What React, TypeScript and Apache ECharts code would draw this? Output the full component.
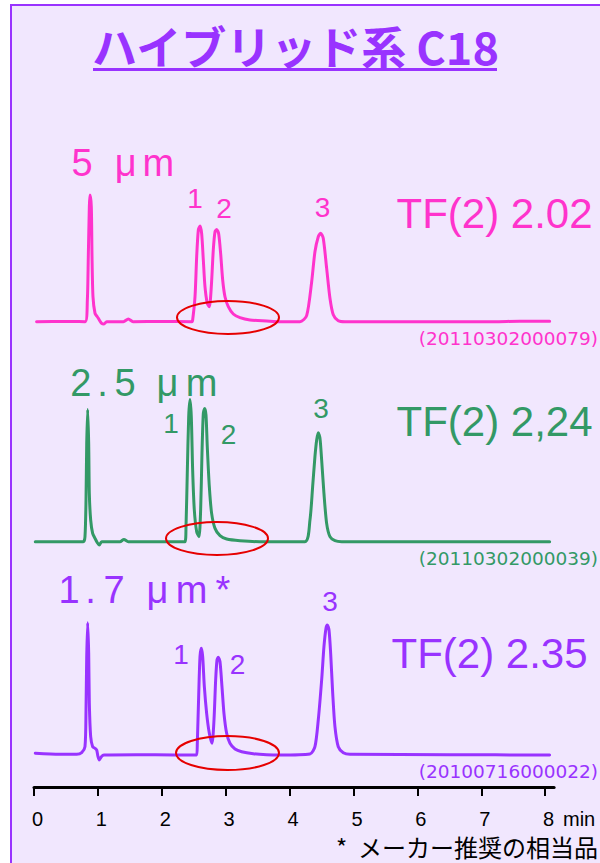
import React, { useEffect, useRef } from 'react';
import * as echarts from 'echarts';

// ---- Data (time in min, detector signal in arbitrary units above baseline) ----
const trace5um: [number, number][] = [
  [0.04, 0], [0.5, 0.3], [0.8, 0], [0.835, 21.7], [0.85, 65], [0.866, 115], [0.876, 126.7],
  [0.897, 115], [0.908, 65], [0.923, 25], [0.955, 8.3], [0.991, 5], [1.022, 1.7], [1.059, -1.7],
  [1.095, -2.3], [1.137, 0], [1.4, 0], [1.476, 2.7], [1.55, 0], [2.0, 0.3], [2.47, 0],
  [2.483, 1.7], [2.52, 25], [2.546, 65], [2.572, 91.7], [2.598, 95.7], [2.624, 88], [2.65, 61.7],
  [2.676, 35], [2.712, 18.3], [2.744, 15], [2.775, 35], [2.806, 71.7], [2.833, 90], [2.859, 92.3],
  [2.89, 88], [2.921, 68.3], [2.953, 41.7], [2.989, 25], [3.041, 15], [3.119, 7.7], [3.224, 4],
  [3.38, 1.7], [3.641, 0.7], [3.85, 0], [4.163, 0], [4.267, 6], [4.346, 40], [4.397, 70],
  [4.449, 85], [4.486, 88.5], [4.527, 83.5], [4.58, 53.5], [4.632, 23.5], [4.684, 7], [4.762, 1],
  [4.867, 0], [6.0, 0], [7.2, 0], [7.6, 0.5], [8.07, 0.5],
];
const trace25um: [number, number][] = [
  [0.02, 0], [0.5, 0], [0.772, 0], [0.798, 5], [0.814, 41.7], [0.825, 98], [0.84, 132.3],
  [0.856, 98], [0.866, 48], [0.887, 21.7], [0.918, 8.3], [0.955, 3.3], [0.991, -1], [1.022, -3.3],
  [1.059, 0], [1.346, 0], [1.408, 2.3], [1.476, 0], [2.0, 0], [2.363, 0], [2.379, 15], [2.4, 71.7],
  [2.421, 125], [2.441, 142.3], [2.462, 125], [2.483, 71.7], [2.509, 31.7], [2.546, 10], [2.582, 5],
  [2.608, 31.7], [2.629, 88.3], [2.65, 128.3], [2.671, 133.3], [2.692, 126.7], [2.712, 95],
  [2.744, 55], [2.78, 28.3], [2.833, 13.3], [2.911, 6], [3.015, 2.7], [3.224, 1], [3.537, 0],
  [4.241, 0], [4.319, 21.7], [4.361, 55], [4.397, 85], [4.424, 101.7], [4.449, 109], [4.476, 103.3],
  [4.502, 81.7], [4.538, 48.3], [4.58, 18.3], [4.632, 5], [4.71, 1], [4.815, 0], [6.5, 0], [8.07, 0],
];
const trace17um: [number, number][] = [
  [0.02, 1.7], [0.4, 0.7], [0.668, 0.7], [0.746, 2.3], [0.798, 8.3], [0.814, 45], [0.825, 98.3],
  [0.84, 132.3], [0.856, 101.7], [0.866, 51.7], [0.887, 18.3], [0.918, 8.3], [0.955, 6.7],
  [0.981, 5], [1.002, -1.7], [1.022, -5], [1.054, -1.7], [1.095, 0], [1.6, 0.3], [2.2, 0],
  [2.546, 0], [2.556, 11.7], [2.577, 58.3], [2.598, 98.3], [2.619, 106.7], [2.64, 98.3],
  [2.666, 68.3], [2.702, 41.7], [2.744, 21.7], [2.786, 11.7], [2.817, 35], [2.843, 75], [2.864, 95],
  [2.884, 97.7], [2.911, 93.3], [2.942, 68.3], [2.973, 41.7], [3.015, 21.7], [3.067, 11.7],
  [3.146, 6], [3.25, 3.3], [3.432, 1.3], [3.641, 0.3], [3.85, 0], [4.319, 1], [4.397, 8.3],
  [4.449, 35], [4.502, 75], [4.538, 108.3], [4.57, 126.7], [4.591, 130], [4.617, 125],
  [4.643, 101.7], [4.675, 61.7], [4.71, 28.3], [4.762, 8.3], [4.841, 2.3], [4.945, 0.7],
  [6.5, 0.3], [8.07, 0],
];
const timeTicks = [0, 1, 2, 3, 4, 5, 6, 7, 8];
const titleText = 'ハイブリッド系 C18';
const tfLabels = ['TF(2) 2.02', 'TF(2) 2,24', 'TF(2) 2.35'];
const lotLabels = ['(20110302000079)', '(20110302000039)', '(20100716000022)'];
const footnote = '*  メーカー推奨の相当品';

// ---- Styles ----
const PINK = '#ff33cc';
const GREEN = '#339966';
const PURPLE = '#9933ff';
const RED = '#e60000';
const BG = '#f1e7fe';
const SANS = '"Liberation Sans", Arial, sans-serif';
const CJK = '"Noto Sans CJK JP", sans-serif';

const GRID_LEFT = 34;
const GRID_W = 520.1;
const X_MAX = 8.14;
const panelTops = [171.7, 391.7, 605];

function txt(text: string, x: number, y: number, fill: string, fontSize: number, opts: any = {}) {
  return {
    type: 'text',
    x,
    y,
    z: 50,
    style: {
      text,
      fill,
      fontSize,
      fontFamily: opts.fontFamily || SANS,
      fontWeight: opts.fontWeight || 'normal',
      align: opts.align || 'center',
      verticalAlign: 'middle',
    },
  };
}

function glyphs(chars: string[], xs: number[], y: number, fill: string, size: number) {
  return chars.map((c, i) => txt(c, xs[i], y, fill, size));
}

export default function App() {
  const ref = useRef<HTMLDivElement>(null);
  useEffect(() => {
    if (!ref.current) return;
    const chart = echarts.init(ref.current, undefined, { renderer: 'svg' });
    const traces = [trace5um, trace25um, trace17um];
    const colors = [PINK, GREEN, PURPLE];

    const grid: any[] = panelTops.map((top) => ({ left: GRID_LEFT, top, width: GRID_W, height: 160 }));
    grid.push({ left: GRID_LEFT, top: 786, width: GRID_W, height: 1 });

    const xAxis: any[] = [0, 1, 2].map((i) => ({
      type: 'value', gridIndex: i, min: 0, max: X_MAX, show: false,
    }));
    xAxis.push({
      type: 'value', gridIndex: 3, min: 0, max: X_MAX, interval: 1, position: 'bottom',
      axisLine: { show: true, lineStyle: { color: '#000', width: 3 } },
      axisTick: { show: true, inside: false, length: 9, lineStyle: { color: '#000', width: 2 }, customValues: timeTicks },
      axisLabel: {
        show: true, customValues: timeTicks, color: '#000', fontSize: 20, fontFamily: SANS,
        margin: 22, padding: [0, 0, 0, 7], lineHeight: 20,
      },
      splitLine: { show: false },
    });
    const yAxis: any[] = [0, 1, 2].map((i) => ({ type: 'value', gridIndex: i, min: -10, max: 150, show: false }));
    yAxis.push({ type: 'value', gridIndex: 3, min: 0, max: 1, show: false });

    const series = traces.map((data, i) => ({
      type: 'line',
      xAxisIndex: i,
      yAxisIndex: i,
      data,
      showSymbol: false,
      symbol: 'none',
      smooth: 0.25,
      lineStyle: { color: colors[i], width: 3, join: 'round', cap: 'round' },
      z: 5,
    }));

    const graphic: any[] = [
      { type: 'rect', z: -100, shape: { x: 11, y: 5, width: 700, height: 900 }, style: { fill: BG, stroke: PURPLE, lineWidth: 2 } },
      txt(titleText, 295.5, 45, PURPLE, 45, { fontFamily: CJK, fontWeight: 'bold' }),
      { type: 'line', z: 50, shape: { x1: 93, y1: 69.5, x2: 497, y2: 69.5 }, style: { stroke: PURPLE, lineWidth: 3 } },
      // particle size labels
      ...glyphs(['5', 'μ', 'm'], [82, 125.8, 158.3], 163, PINK, 38),
      ...glyphs(['2', '.', '5', 'μ', 'm'], [80.8, 102.5, 125, 167.5, 201.5], 382.5, GREEN, 38),
      ...glyphs(['1', '.', '7', 'μ', 'm', '*'], [69, 90.5, 114, 157.5, 191.5, 223], 589.5, PURPLE, 38),
      // peak numbers
      txt('1', 195, 198, PINK, 28), txt('2', 224, 208, PINK, 28), txt('3', 322.5, 207.5, PINK, 28),
      txt('1', 171, 423, GREEN, 28), txt('2', 228.5, 434, GREEN, 28), txt('3', 321, 408, GREEN, 28),
      txt('1', 181, 654, PURPLE, 28), txt('2', 237.5, 664, PURPLE, 28), txt('3', 330, 601, PURPLE, 28),
      // tailing factors
      txt(tfLabels[0], 396.5, 213.3, PINK, 42, { align: 'left' }),
      txt(tfLabels[1], 396.5, 421.3, GREEN, 42, { align: 'left' }),
      txt(tfLabels[2], 391.5, 653.3, PURPLE, 42, { align: 'left' }),
      // lot numbers
      txt(lotLabels[0], 598, 338.3, PINK, 18.5, { align: 'right', fontFamily: '"DejaVu Sans", sans-serif' }),
      txt(lotLabels[1], 598, 558.7, GREEN, 18.5, { align: 'right', fontFamily: '"DejaVu Sans", sans-serif' }),
      txt(lotLabels[2], 598, 771.5, PURPLE, 18.5, { align: 'right', fontFamily: '"DejaVu Sans", sans-serif' }),
      // highlight ellipses
      { type: 'ellipse', z: 60, shape: { cx: 228, cy: 317.5, rx: 51, ry: 16.5 }, style: { fill: 'none', stroke: RED, lineWidth: 2 } },
      { type: 'ellipse', z: 60, shape: { cx: 217, cy: 538.5, rx: 51, ry: 16.5 }, style: { fill: 'none', stroke: RED, lineWidth: 2 } },
      { type: 'ellipse', z: 60, shape: { cx: 227.5, cy: 753, rx: 51.5, ry: 17 }, style: { fill: 'none', stroke: RED, lineWidth: 2 } },
      // axis unit and footnote
      txt('min', 563, 819, '#000', 20, { align: 'left' }),
      txt(footnote, 598, 846.5, '#000', 24, { align: 'right', fontFamily: CJK }),
    ];

    chart.setOption({
      animation: false,
      backgroundColor: '#ffffff',
      grid,
      xAxis,
      yAxis,
      series,
      graphic: { elements: graphic },
    });
    return () => chart.dispose();
  }, []);
  return <div ref={ref} style={{ position: 'absolute', left: 0, top: 0, width: 600, height: 863 }} />;
}
